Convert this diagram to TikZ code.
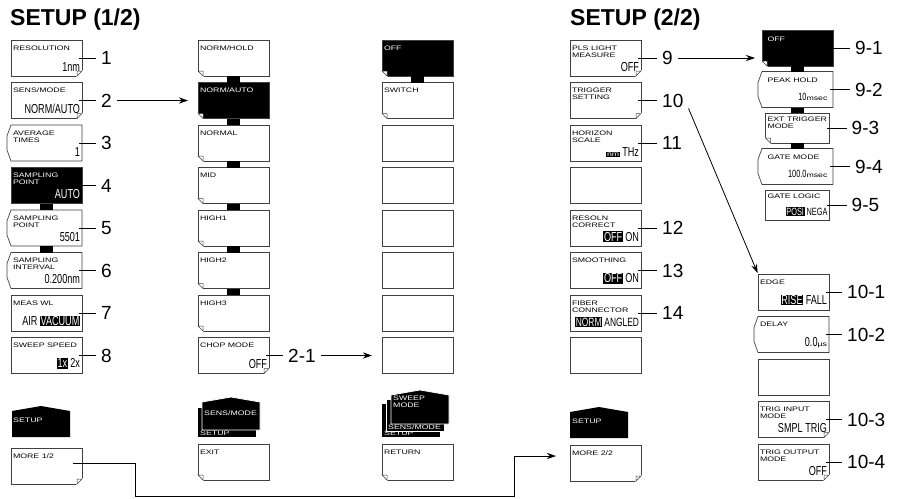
\documentclass[tikz,border=0pt]{standalone}
\usepackage{fontspec}
\setmainfont{Liberation Sans}
\newfontfamily\keyfam[FakeStretch=1.35]{Liberation Sans}
\newfontfamily\valfam[FakeStretch=0.7]{Liberation Sans}
\usetikzlibrary{arrows.meta,positioning}

\newcommand{\kyfont}{\keyfam\fontsize{6.5}{7}\selectfont}
\newcommand{\vlfont}{\valfam\fontsize{13}{14}\selectfont}
\newcommand{\vsfont}{\valfam\fontsize{10.5}{11}\selectfont}
\newcommand{\hil}[1]{{\setlength{\fboxsep}{0.6pt}\colorbox{black}{\textcolor{white}{#1}}}}
\newcommand{\kt}[2]{\parbox[c][32pt][s]{67pt}{\kyfont\rule{0pt}{8pt}#1\par\vfill\hfill\vlfont\mbox{#2}\par\kern3pt}}
\newcommand{\ks}[2]{\parbox[c][26pt][s]{60pt}{\kyfont\rule{0pt}{6pt}#1\par\vfill\hfill\vsfont\mbox{#2}\par\kern2pt}}

\begin{document}
\begin{tikzpicture}[x=1pt, y=-1pt,
    node distance=6.5pt,
    key/.style={draw=black!75, line width=0.7pt, fill=white, minimum width=71pt, minimum height=36pt, inner sep=0pt, outer sep=0pt},
    bkey/.style={key, fill=black, text=white},
    nkey/.style={key, draw=none},
    skey/.style={key, minimum width=64pt, minimum height=30pt},
    ear/.style={draw=black!75, line width=0.5pt, fill=white},
    num/.style={font=\fontsize{19}{19}\selectfont, inner xsep=5pt, inner ysep=1pt},
    title/.style={font=\bfseries\fontsize{23}{23}\selectfont, inner sep=0pt, anchor=base west},
    tabtxt/.style={font=\kyfont, text=white, inner sep=0pt, anchor=base west, align=left},
    lead/.style={line width=0.8pt},
    arr/.style={-{Stealth[length=9pt,width=6pt]}, line width=0.8pt}
  ]
  \path[use as bounding box, fill=white] (0,0) rectangle (902,498);

  \node[title] (t1) at (10,25) {SETUP (1/2)};
  \node[title] (t2) at (570,25) {SETUP (2/2)};

  % setup 1/2
  \node[key, anchor=north west] (a1) at (11,40) {\kt{RESOLUTION}{1nm}};
  \node[key, below=of a1] (a2) {\kt{SENS/MODE}{NORM/AUTO}};
  \node[nkey, below=of a2] (a3) {\kt{AVERAGE\\TIMES}{1}};
  \node[bkey, below=of a3] (a4) {\kt{SAMPLING\\POINT}{AUTO}};
  \node[nkey, below=of a4] (a5) {\kt{SAMPLING\\POINT}{5501}};
  \node[nkey, below=of a5] (a6) {\kt{SAMPLING\\INTERVAL}{0.200nm}};
  \node[key, below=of a6] (a7) {\kt{MEAS WL}{AIR \hil{VACUUM}}};
  \node[key, below=of a7] (a8) {\kt{SWEEP SPEED}{\hil{1x} 2x}};
  \node[key, anchor=north west] (m1) at (11,448) {\kt{MORE 1/2}{}};

  % sens/mode
  \node[key, anchor=north west] (b1) at (198,40) {\kt{NORM/HOLD}{}};
  \node[bkey, below=of b1] (b2) {\kt{NORM/AUTO}{}};
  \node[key, below=of b2] (b3) {\kt{NORMAL}{}};
  \node[key, below=of b3] (b4) {\kt{MID}{}};
  \node[key, below=of b4] (b5) {\kt{HIGH1}{}};
  \node[key, below=of b5] (b6) {\kt{HIGH2}{}};
  \node[key, below=of b6] (b7) {\kt{HIGH3}{}};
  \node[key, below=of b7] (b8) {\kt{CHOP MODE}{OFF}};
  \node[key, anchor=north west] (ex) at (198,444) {\kt{EXIT}{}};

  % sweep mode
  \node[bkey, anchor=north west] (c1) at (382,40) {\kt{OFF}{}};
  \node[key, below=of c1] (c2) {\kt{SWITCH}{}};
  \node[key, below=of c2] (c3) {};
  \node[key, below=of c3] (c4) {};
  \node[key, below=of c4] (c5) {};
  \node[key, below=of c5] (c6) {};
  \node[key, below=of c6] (c7) {};
  \node[key, below=of c7] (c8) {};
  \node[key, anchor=north west] (rt) at (382,444) {\kt{RETURN}{}};

  % setup 2/2
  \node[key, anchor=north west] (d1) at (570,40) {\kt{PLS LIGHT\\MEASURE}{OFF}};
  \node[key, below=of d1] (d2) {\kt{TRIGGER\\SETTING}{}};
  \node[key, below=of d2] (d3) {\kt{HORIZON\\SCALE}{\hil{\kyfont nm}\ THz}};
  \node[key, below=of d3] (d4) {};
  \node[key, below=of d4] (d5) {\kt{RESOLN\\CORRECT}{\hil{OFF} ON}};
  \node[key, below=of d5] (d6) {\kt{SMOOTHING}{\hil{OFF} ON}};
  \node[key, below=of d6] (d7) {\kt{FIBER\\CONNECTOR}{\fontsize{12}{13}\selectfont\hil{NORM} ANGLED}};
  \node[key, below=of d7] (d8) {};
  \node[key, anchor=north west] (m2) at (570,445) {\kt{MORE 2/2}{}};

  % pls light measure
  \node[skey, bkey, anchor=north west] (e1) at (762,30) {\ks{OFF}{}};
  \node[skey, nkey, below=5.5pt of e1] (e2) {\ks{PEAK HOLD}{10{\kyfont msec}}};
  \node[skey, below=5.5pt of e2] (e3) {\ks{EXT TRIGGER\\MODE}{}};
  \node[skey, nkey, below=5.5pt of e3] (e4) {\ks{GATE MODE}{100.0{\kyfont msec}}};
  \node[skey, below=5.5pt of e4] (e5) {\ks{GATE LOGIC}{\hil{POSI} NEGA}};

  % trigger setting
  \node[key, anchor=north west] (f1) at (758,274) {\kt{EDGE}{\hil{RISE} FALL}};
  \node[nkey, below=of f1] (f2) {\kt{DELAY}{0.0{\kyfont µs}}};
  \node[key, below=of f2] (f3) {};
  \node[key, below=of f3] (f4) {\kt{TRIG INPUT\\MODE}{SMPL TRIG}};
  \node[key, below=of f4] (f5) {\kt{TRIG OUTPUT\\MODE}{OFF}};

  % notched keys
  \foreach \k in {a3,a5,a6,e2,e4,f2}
    \draw[draw=black!75, line width=0.7pt] (\k.north west) -- (\k.north east) -- (\k.south east) -- (\k.south west) -- ([shift={(-4pt,11pt)}]\k.south west) -- ([shift={(-4pt,-11pt)}]\k.north west) -- cycle;

  % folded corners
  \foreach \k in {a1,a2,b8,d1,d2,f4,f5,m1,m2} {
    \fill[white] ([xshift=-6pt,yshift=-1pt]\k.south east) -- ([xshift=1pt,yshift=-1pt]\k.south east) -- ([xshift=1pt,yshift=6pt]\k.south east) -- cycle;
    \filldraw[ear] ([xshift=-5pt]\k.south east) -- ([yshift=5pt]\k.south east) -- ([xshift=-5pt,yshift=5pt]\k.south east) -- cycle;
  }
  \foreach \k in {b1,b2,b3,b4,b5,b6,b7,c1,c2,e1,e3,ex,rt} {
    \fill[white] ([xshift=6pt,yshift=-1pt]\k.south west) -- ([xshift=-1pt,yshift=-1pt]\k.south west) -- ([xshift=-1pt,yshift=6pt]\k.south west) -- cycle;
    \filldraw[ear] ([xshift=5pt]\k.south west) -- ([yshift=5pt]\k.south west) -- ([xshift=5pt,yshift=5pt]\k.south west) -- cycle;
  }

  % link bars
  \foreach \u/\v in {a4/a5,a5/a6,b1/b2,b2/b3,b3/b4,b4/b5,b5/b6,b6/b7,c1/c2,e1/e2,e2/e3,e3/e4}
    \fill ([xshift=-6.5pt]\u.south) rectangle ([xshift=6.5pt]\v.north);

  % soft key labels
  \fill (12,437) -- (12,411) -- (41,406) -- (70,411) -- (70,437) -- cycle;
  \node[tabtxt] (s1) at (13,422) {SETUP};

  \fill (198,437) -- (198,408) -- (256,408) -- (256,437) -- cycle;
  \node[tabtxt] (s2) at (200,435.5) {SETUP};
  \filldraw[fill=black, draw=white, line width=0.8pt] (202,430) -- (202,402) -- (231,397) -- (260,402) -- (260,430) -- cycle;
  \node[tabtxt] (s3) at (204,415) {SENS/MODE};

  \fill (382,437) -- (382,404) -- (440,404) -- (440,437) -- cycle;
  \node[tabtxt] (s4) at (384,435.5) {SETUP};
  \filldraw[fill=black, draw=white, line width=0.8pt] (386,431) -- (386,399) -- (444,399) -- (444,431) -- cycle;
  \node[tabtxt] (s5) at (388,429.5) {SENS/MODE};
  \filldraw[fill=black, draw=white, line width=0.8pt] (391,424) -- (391,395) -- (420,390) -- (449,395) -- (449,424) -- cycle;
  \node[tabtxt] (s6) at (393,407) {SWEEP\\MODE};

  \fill (570,438) -- (570,412) -- (599,407) -- (628,412) -- (628,438) -- cycle;
  \node[tabtxt] (s7) at (572,423) {SETUP};

  % numbers
  \node[num, right=14pt of a1] (n1) {1};
  \node[num, right=14pt of a2] (n2) {2};
  \node[num, right=14pt of a3] (n3) {3};
  \node[num, right=14pt of a4] (n4) {4};
  \node[num, right=14pt of a5] (n5) {5};
  \node[num, right=14pt of a6] (n6) {6};
  \node[num, right=14pt of a7] (n7) {7};
  \node[num, right=14pt of a8] (n8) {8};
  \node[num, right=14pt of b8] (n21) {2-1};
  \node[num, right=16pt of d1] (n9) {9};
  \node[num, right=16pt of d2] (n10) {10};
  \node[num, right=16pt of d3] (n11) {11};
  \node[num, right=16pt of d5] (n12) {12};
  \node[num, right=16pt of d6] (n13) {13};
  \node[num, right=16pt of d7] (n14) {14};
  \node[num, right=17pt of e1] (n91) {9-1};
  \node[num, right=17pt of e2] (n92) {9-2};
  \node[num, right=17pt of e3] (n93) {9-3};
  \node[num, right=17pt of e4] (n94) {9-4};
  \node[num, right=17pt of e5] (n95) {9-5};
  \node[num, right=13pt of f1] (n101) {10-1};
  \node[num, right=13pt of f2] (n102) {10-2};
  \node[num, right=13pt of f4] (n103) {10-3};
  \node[num, right=13pt of f5] (n104) {10-4};

  \foreach \k/\n in {a1/n1,a2/n2,a3/n3,a4/n4,a5/n5,a6/n6,a7/n7,a8/n8,b8/n21,d1/n9,d2/n10,d3/n11,d5/n12,d6/n13,d7/n14,e1/n91,e2/n92,e3/n93,e4/n94,e5/n95,f1/n101,f2/n102,f4/n103,f5/n104}
    \draw[lead] ([xshift=-3pt]\k.east) -- (\n.west);

  % arrows
  \draw[arr, shorten >=10pt] (n2.east) -- (n2.east -| b2.west);
  \draw[arr, shorten >=10pt] (n21.east) -- (n21.east -| c8.west);
  \draw[arr, shorten >=7pt] (n9.east) -- (n9.east -| e1.west);
  \draw[arr, shorten >=1pt] (n10.south east) -- (f1.north west);
  \coordinate (lo1) at (135,496);
  \coordinate (lo2) at (514,496);
  \draw[arr, shorten >=14pt] ([xshift=-9pt,yshift=3pt]m1.east) -| (lo1) -- (lo2) |- ([yshift=7pt]m2.west);
\end{tikzpicture}
\end{document}
